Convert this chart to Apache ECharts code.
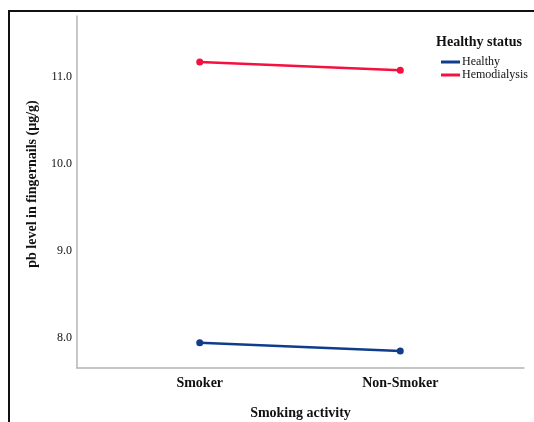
<!DOCTYPE html>
<html>
<head>
<meta charset="utf-8">
<script src="https://cdn.jsdelivr.net/npm/echarts@6/dist/echarts.min.js"></script>
<style>html,body{margin:0;padding:0;background:#fff;}#c{width:534px;height:422px;}</style>
</head>
<body>
<div id="c"></div>
<script>
var categories = ['Smoker', 'Non-Smoker'];
var healthy = [7.946, 7.85];
var hemodialysis = [11.172, 11.077];
var yTicks = [8.0, 9.0, 10.0, 11.0];
var seriesNames = ['Healthy', 'Hemodialysis'];

var chart = echarts.init(document.getElementById('c'));
var serif = 'Liberation Serif, Times New Roman, serif';
function toPts(vals){ return vals.map(function(v,i){ return [i, v]; }); }
var catIdx = categories.map(function(c,i){ return i; });

chart.setOption({
  animation: false,
  backgroundColor: '#fff',
  graphic: [
    { type: 'rect', shape: { x: 9, y: 11, width: 600, height: 500 }, style: { fill: 'none', stroke: '#111', lineWidth: 2 }, silent: true }
  ],
  title: {
    text: 'Healthy status', right: 7, top: 30,
    textStyle: { fontFamily: serif, fontWeight: 'bold', fontSize: 14, color: '#111' }
  },
  legend: {
    data: seriesNames, orient: 'vertical', left: 436, top: 51,
    itemWidth: 19, itemHeight: 3, itemGap: 1, icon: 'rect',
    textStyle: { fontFamily: serif, fontSize: 12, color: '#111', padding: [0,0,0,-3] }
  },
  grid: { left: 77, top: 16, right: 10, bottom: 54, containLabel: false, outerBoundsMode: 'none' },
  xAxis: {
    type: 'value', min: -0.612, max: 1.617,
    name: 'Smoking activity', nameLocation: 'middle', nameGap: 38,
    nameTextStyle: { fontFamily: serif, fontWeight: 'bold', fontSize: 14, color: '#111' },
    axisLine: { show: true, onZero: false, lineStyle: { color: '#b4b4b4', width: 1.5 } },
    axisTick: { show: false },
    splitLine: { show: false },
    axisLabel: {
      customValues: catIdx,
      formatter: function(v){ return categories[Math.round(v)]; },
      fontFamily: serif, fontWeight: 'bold', fontSize: 14, color: '#111', margin: 8
    }
  },
  yAxis: {
    type: 'value', min: 7.655, max: 11.70,
    name: 'pb level in fingernails (µg/g)', nameLocation: 'middle', nameGap: 38,
    nameTextStyle: { fontFamily: serif, fontWeight: 'bold', fontSize: 14, color: '#111', padding: [0,0,0,16] },
    axisLine: { show: true, onZero: false, lineStyle: { color: '#b4b4b4', width: 1.5 } },
    axisTick: { show: false },
    splitLine: { show: false },
    axisLabel: {
      customValues: yTicks,
      formatter: function(v){ return v.toFixed(1); },
      fontFamily: serif, fontSize: 12, color: '#111', margin: 5
    }
  },
  series: [
    { name: seriesNames[0], type: 'line', data: toPts(healthy), color: '#0f3d8c',
      symbol: 'circle', symbolSize: 7, lineStyle: { width: 2.5 } },
    { name: seriesNames[1], type: 'line', data: toPts(hemodialysis), color: '#f5103f',
      symbol: 'circle', symbolSize: 7, lineStyle: { width: 2.5 } }
  ]
});
</script>
</body>
</html>
